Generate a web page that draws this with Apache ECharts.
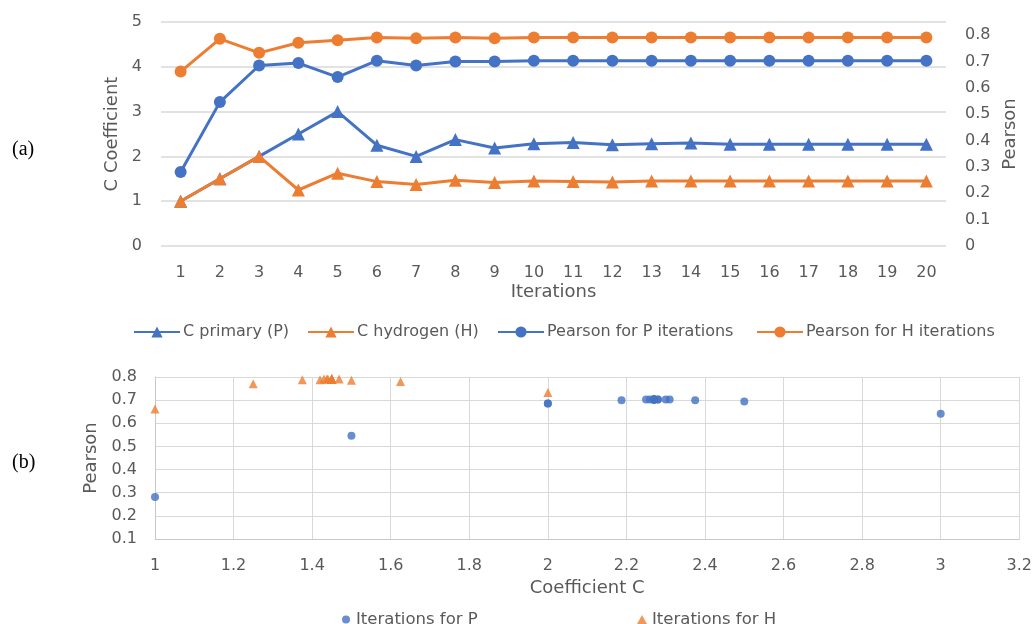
<!DOCTYPE html>
<html>
<head>
<meta charset="utf-8">
<script src="https://cdn.jsdelivr.net/npm/echarts@6/dist/echarts.min.js"></script>
<style>html,body{margin:0;padding:0;background:#fff}#c{width:1035px;height:624px}</style>
</head>
<body>
<div id="c"></div>
<script>
var iterations = ['1','2','3','4','5','6','7','8','9','10','11','12','13','14','15','16','17','18','19','20'];
var cPrimary = [1, 1.5, 2, 2.5, 3, 2.25, 2, 2.375, 2.1875, 2.28, 2.31, 2.26, 2.28, 2.30, 2.27, 2.27, 2.27, 2.27, 2.27, 2.27];
var cHydrogen = [1, 1.5, 2, 1.25, 1.625, 1.4375, 1.375, 1.46875, 1.42, 1.45, 1.44, 1.43, 1.45, 1.45, 1.45, 1.45, 1.45, 1.45, 1.45, 1.45];
var pearsonP = [0.281, 0.546, 0.685, 0.694, 0.641, 0.703, 0.685, 0.700, 0.700, 0.703, 0.703, 0.703, 0.703, 0.703, 0.703, 0.703, 0.703, 0.703, 0.703, 0.703];
var pearsonH = [0.662, 0.786, 0.733, 0.771, 0.781, 0.791, 0.788, 0.791, 0.788, 0.791, 0.791, 0.791, 0.791, 0.791, 0.791, 0.791, 0.791, 0.791, 0.791, 0.791];

var BLUE = '#4472C4', ORANGE = '#ED7D31', TXT = '#595959', GRID = '#d9d9d9';
var FONT = 'DejaVu Sans';

var scatterP = cPrimary.map(function (c, i) { return [c, pearsonP[i]]; });
var scatterH = cHydrogen.map(function (c, i) { return [c, pearsonH[i]]; });

var chart = echarts.init(document.getElementById('c'));
function legendAt(name, left, top, w, h, fs, pad) {
  return { data: [name], left: left, top: top, itemWidth: w, itemHeight: h, padding: 0, itemGap: 0,
    textStyle: { color: TXT, fontSize: fs, fontFamily: FONT, padding: [0, 0, 0, pad] }, selectedMode: false };
}
var option = {
  animation: false,
  textStyle: { fontFamily: FONT },
  graphic: [
    { type: 'text', left: 12, top: 140, style: { text: '(a)', font: '20px "Liberation Serif"', fill: '#000' } },
    { type: 'text', left: 12, top: 453, style: { text: '(b)', font: '20px "Liberation Serif"', fill: '#000' } }
  ],
  legend: [
    legendAt('C primary (P)', 133, 324, 46, 14, 16, -2),
    legendAt('C hydrogen (H)', 307, 324, 46, 14, 16, -2),
    legendAt('Pearson for P iterations', 497, 324, 46, 14, 16, -2),
    legendAt('Pearson for H iterations', 756, 324, 46, 14, 16, -2),
    legendAt('Iterations for P', 342, 611, 8, 8, 16.5, 1),
    legendAt('Iterations for H', 637, 611, 10, 9, 16.5, 0)
  ],
  grid: [
    { left: 161, right: 89, top: 22, bottom: 378 },
    { left: 155, right: 15, top: 377, bottom: 85 }
  ],
  xAxis: [
    { type: 'category', gridIndex: 0, data: iterations, boundaryGap: true,
      axisLine: { show: false }, axisTick: { show: false },
      axisLabel: { color: TXT, fontSize: 16, margin: 19, interval: 0 },
      name: 'Iterations', nameLocation: 'middle', nameGap: 37,
      nameTextStyle: { color: TXT, fontSize: 18 } },
    { type: 'value', gridIndex: 1, min: 1, max: 3.2, interval: 0.2,
      axisLine: { show: true, lineStyle: { color: '#c8c8c8' } }, axisTick: { show: false },
      splitLine: { show: true, lineStyle: { color: GRID } },
      axisLabel: { color: TXT, fontSize: 16, margin: 19 },
      name: 'Coefficient C', nameLocation: 'middle', nameGap: 40,
      nameTextStyle: { color: TXT, fontSize: 18 } }
  ],
  yAxis: [
    { type: 'value', gridIndex: 0, min: 0, max: 5, interval: 1,
      axisLine: { show: false }, axisTick: { show: false },
      splitLine: { lineStyle: { color: GRID, width: 1.5 } },
      axisLabel: { color: TXT, fontSize: 16, margin: 19 },
      name: 'C Coefficient', nameLocation: 'middle', nameGap: 37, nameRotate: 90,
      nameTextStyle: { color: TXT, fontSize: 18 } },
    { type: 'value', gridIndex: 0, position: 'right', min: 0, max: 0.85, interval: 0.1,
      axisLine: { show: false }, axisTick: { show: false }, splitLine: { show: false },
      axisLabel: { color: TXT, fontSize: 16, margin: 19, showMaxLabel: false },
      name: 'Pearson', nameLocation: 'middle', nameGap: 50, nameRotate: 90,
      nameTextStyle: { color: TXT, fontSize: 18 } },
    { type: 'value', gridIndex: 1, min: 0.1, max: 0.8, interval: 0.1,
      axisLine: { show: true, lineStyle: { color: '#c8c8c8' } }, axisTick: { show: false },
      splitLine: { show: true, lineStyle: { color: GRID } },
      axisLabel: { color: TXT, fontSize: 16, margin: 18 },
      name: 'Pearson', nameLocation: 'middle', nameGap: 55, nameRotate: 90,
      nameTextStyle: { color: TXT, fontSize: 18 } }
  ],
  series: [
    { name: 'C primary (P)', type: 'line', xAxisIndex: 0, yAxisIndex: 0, data: cPrimary,
      symbol: 'triangle', symbolSize: 13, itemStyle: { color: BLUE }, lineStyle: { color: BLUE, width: 3 }, z: 3 },
    { name: 'C hydrogen (H)', type: 'line', xAxisIndex: 0, yAxisIndex: 0, data: cHydrogen,
      symbol: 'triangle', symbolSize: 13, itemStyle: { color: ORANGE }, lineStyle: { color: ORANGE, width: 3 }, z: 4 },
    { name: 'Pearson for P iterations', type: 'line', xAxisIndex: 0, yAxisIndex: 1, data: pearsonP,
      symbol: 'circle', symbolSize: 12, itemStyle: { color: BLUE }, lineStyle: { color: BLUE, width: 3 }, z: 5 },
    { name: 'Pearson for H iterations', type: 'line', xAxisIndex: 0, yAxisIndex: 1, data: pearsonH,
      symbol: 'circle', symbolSize: 12, itemStyle: { color: ORANGE }, lineStyle: { color: ORANGE, width: 3 }, z: 6 },
    { name: 'Iterations for P', type: 'scatter', xAxisIndex: 1, yAxisIndex: 2, data: scatterP,
      symbol: 'circle', symbolSize: 8, itemStyle: { color: BLUE } },
    { name: 'Iterations for H', type: 'scatter', xAxisIndex: 1, yAxisIndex: 2, data: scatterH,
      symbol: 'triangle', symbolSize: 9, itemStyle: { color: ORANGE } }
  ]
};
chart.setOption(option);
</script>
</body>
</html>
